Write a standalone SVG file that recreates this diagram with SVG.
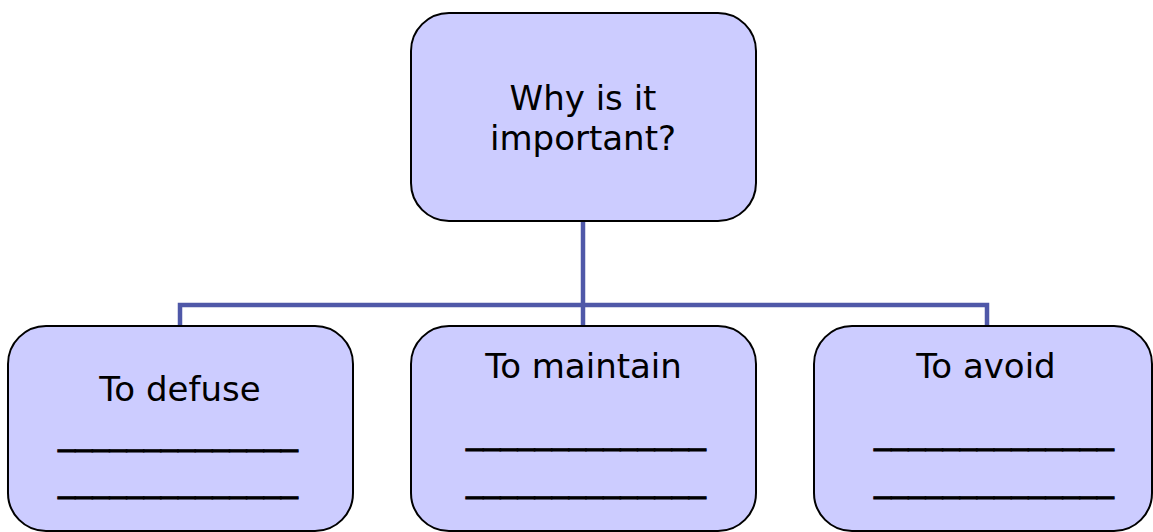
<svg xmlns="http://www.w3.org/2000/svg" width="1153" height="532" viewBox="0 0 1153 532">
  <style>
    .box { fill: #CCCCFF; stroke: #000000; stroke-width: 2; }
    .label { font-family: "DejaVu Sans", Verdana, sans-serif; font-size: 34px; fill: #000000; text-anchor: middle; }
    .blank { font-family: "DejaVu Sans", Verdana, sans-serif; font-size: 33px; fill: #000000; stroke: #000000; stroke-width: 0.8; text-anchor: middle; }
    .link { fill: none; stroke: #4F58A8; stroke-width: 4.5; stroke-linejoin: miter; stroke-linecap: butt; }
  </style>
  <rect width="1153" height="532" fill="#FFFFFF"/>

  <!-- tree connectors -->
  <g id="connectors">
    <path class="link" d="M583 221 V326"/>
    <path class="link" d="M180 326 V305 H987 V326"/>
  </g>

  <g id="root">
    <rect class="box" x="411" y="13" width="345" height="208" rx="38" ry="38"/>
    <text class="label" x="583" y="110">Why is it</text>
    <text class="label" x="583" y="150">important?</text>
  </g>

  <g id="defuse">
    <rect class="box" x="8" y="326" width="345" height="205" rx="38" ry="38"/>
    <text class="label" x="180" y="401">To defuse</text>
    <text class="blank" x="178" y="444" textLength="240" lengthAdjust="spacingAndGlyphs">______________</text>
    <text class="blank" x="178" y="491" textLength="240" lengthAdjust="spacingAndGlyphs">______________</text>
  </g>

  <g id="maintain">
    <rect class="box" x="411" y="326" width="345" height="205" rx="38" ry="38"/>
    <text class="label" x="583.5" y="378">To maintain</text>
    <text class="blank" x="586" y="443" textLength="240" lengthAdjust="spacingAndGlyphs">______________</text>
    <text class="blank" x="586" y="491" textLength="240" lengthAdjust="spacingAndGlyphs">______________</text>
  </g>

  <g id="avoid">
    <rect class="box" x="814" y="326" width="338" height="205" rx="38" ry="38"/>
    <text class="label" x="986" y="378">To avoid</text>
    <text class="blank" x="994" y="443" textLength="240" lengthAdjust="spacingAndGlyphs">______________</text>
    <text class="blank" x="994" y="491" textLength="240" lengthAdjust="spacingAndGlyphs">______________</text>
  </g>
</svg>
